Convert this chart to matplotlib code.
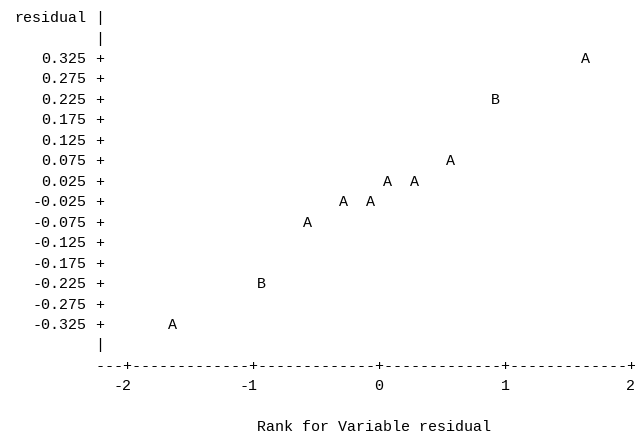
import matplotlib
matplotlib.use('Agg')
import matplotlib.pyplot as plt

# normal rank scores and residuals
rank = [-1.64, -0.93, -0.57, -0.28, -0.07, 0.07, 0.28, 0.57, 0.92, 1.64]
residual = [-0.325, -0.225, -0.075, -0.025, -0.025, 0.025, 0.025, 0.075, 0.225, 0.325]
symbol = ['A', 'B', 'A', 'A', 'A', 'A', 'A', 'A', 'B', 'A']

y_ticks = [0.325, 0.275, 0.225, 0.175, 0.125, 0.075, 0.025,
           -0.025, -0.075, -0.125, -0.175, -0.225, -0.275, -0.325]
y_labels = ['0.325', '0.275', '0.225', '0.175', '0.125', '0.075', '0.025',
            '-0.025', '-0.075', '-0.125', '-0.175', '-0.225', '-0.275', '-0.325']
x_ticks = [-2, -1, 0, 1, 2]
x_labels = ['-2', '-1', '0', '1', '2']

y_name = 'residual'
x_title = 'Rank for Variable residual'

font = dict(family=['Liberation Mono', 'DejaVu Sans Mono'], fontsize=10.8, color='black')

fig = plt.figure(figsize=(6.35, 4.36), dpi=100)
ax = fig.add_axes([0, 0, 1, 1])
ax.set_xlim(-3.008, 2.032)
ax.set_ylim(-0.5963, 0.4692)
ax.axis('off')

cw = 1 / 14          # one printer column in rank units
rh = 0.05            # one printer row in residual units
col_axis = x_ticks[0] - 3 * cw
top = y_ticks[0]
bottom = y_ticks[-1]

# vertical axis
ax.text(col_axis - 1.5 * cw, top + 2 * rh, y_name, ha='right', va='center', **font)
for yy in [top + 2 * rh, top + rh, bottom - rh]:
    ax.text(col_axis, yy, '|', ha='center', va='center', **font)
for yy, lab in zip(y_ticks, y_labels):
    ax.text(col_axis, yy, '+', ha='center', va='center', **font)
    ax.text(col_axis - 1.5 * cw, yy, lab, ha='right', va='center', **font)

# horizontal axis made of printer characters
y_axis_row = bottom - 2 * rh
n_cols = int(round((x_ticks[-1] - col_axis) / cw)) + 1
for k in range(n_cols):
    xx = col_axis + k * cw
    ch = '+' if any(abs(xx - t) < 1e-6 for t in x_ticks) else '-'
    ax.text(xx, y_axis_row, ch, ha='center', va='center', **font)
for t, lab in zip(x_ticks, x_labels):
    ax.text(t + 0.5 * cw, y_axis_row - rh, lab, ha='right', va='center', **font)

ax.text(x_ticks[0] + 27.5 * cw, y_axis_row - 3 * rh, x_title, ha='center', va='center', **font)

# plotted points
for r, v, s in zip(rank, residual, symbol):
    ax.text(r, v, s, ha='center', va='center', **font)

fig.savefig('out.png', dpi=100)
